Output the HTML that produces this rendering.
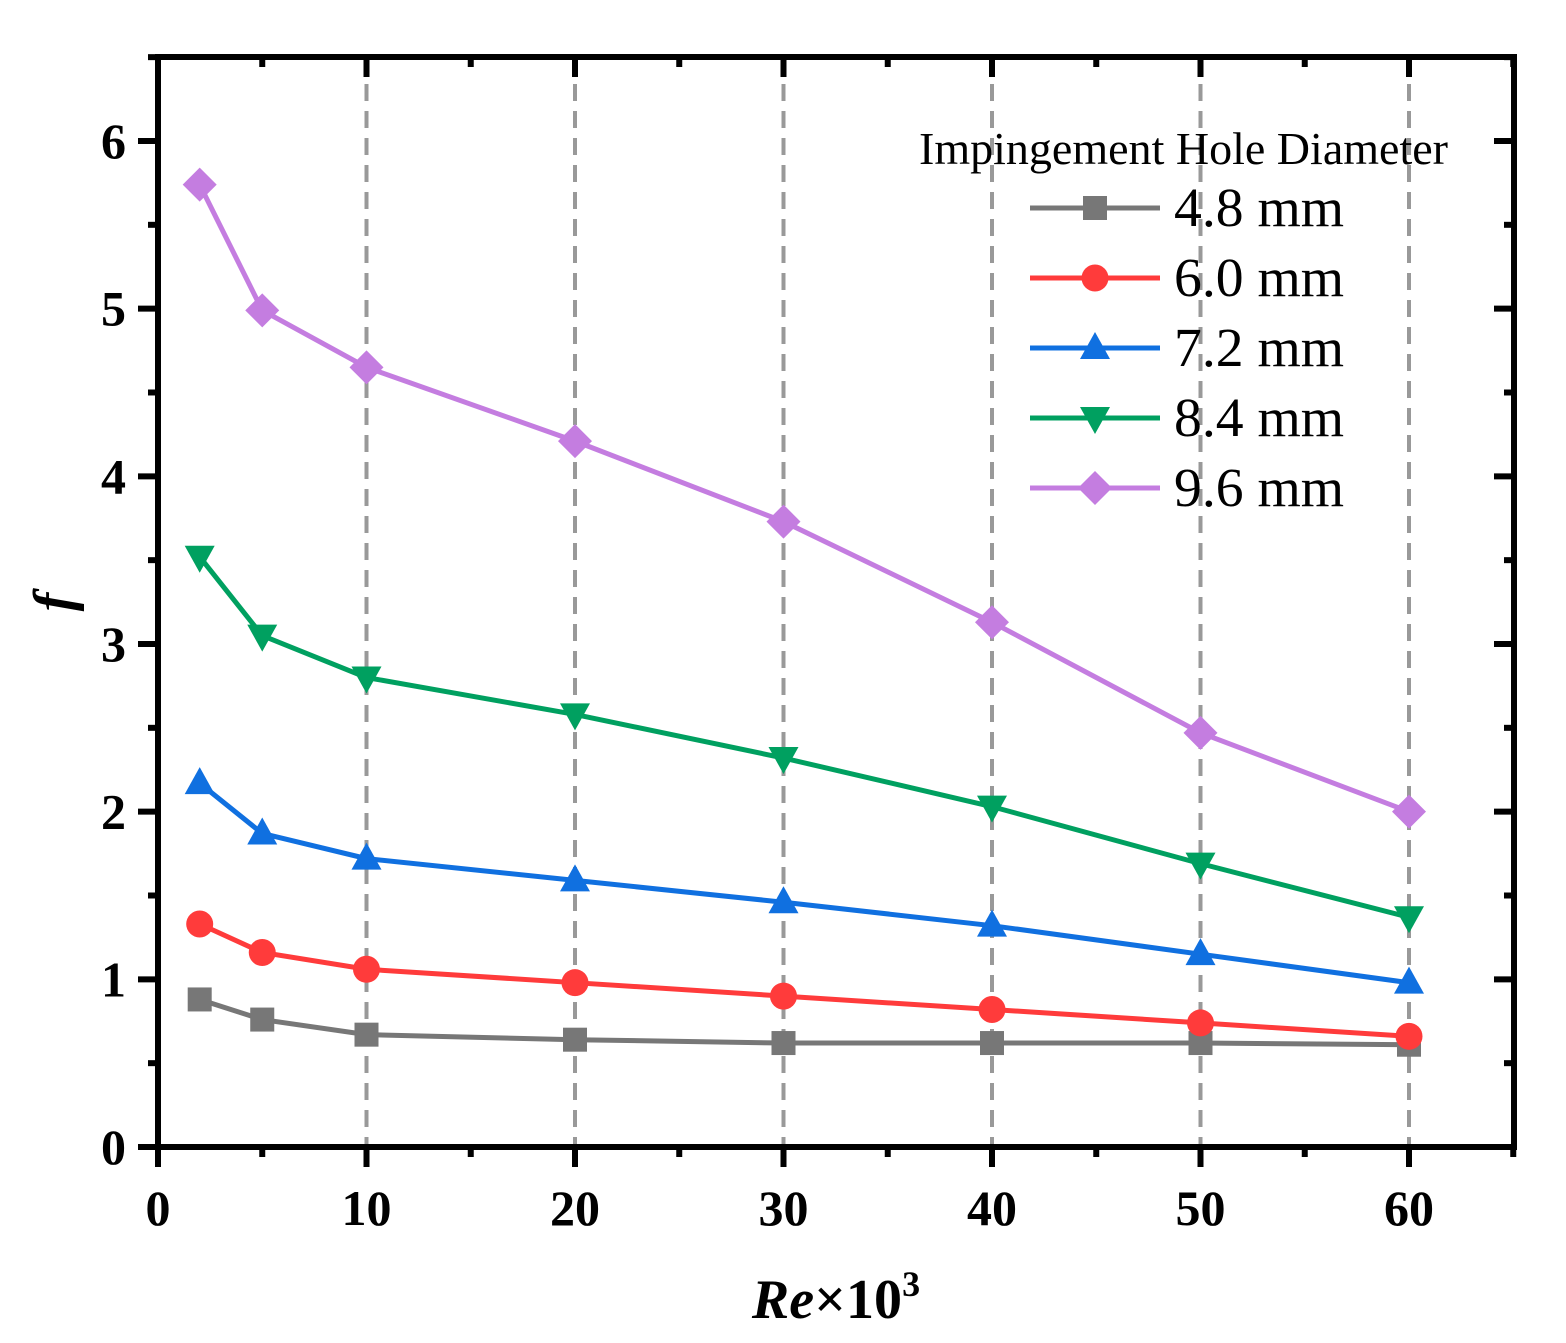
<!DOCTYPE html>
<html><head><meta charset="utf-8"><style>
html,body{margin:0;padding:0;background:#fff;width:1566px;height:1343px;overflow:hidden}
</style></head><body>
<svg id="s" width="1566" height="1343" xmlns="http://www.w3.org/2000/svg" font-family="Liberation Serif, serif"></svg>
<script>
const X=v=>158+v*20.85, Y=v=>1147-v*167.67;
let h='';
for(const v of [10,20,30,40,50,60]) h+=`<line x1="${X(v)}" y1="57" x2="${X(v)}" y2="1147" stroke="#999" stroke-width="4" stroke-dasharray="17,10"/>`;
const xs=[2,5,10,20,30,40,50,60];
const S=[
['#777','sq',[0.88,0.76,0.67,0.64,0.62,0.62,0.62,0.61]],
['#ff3b3b','ci',[1.33,1.16,1.06,0.98,0.90,0.82,0.74,0.66]],
['#1070e0','tu',[2.17,1.87,1.72,1.59,1.46,1.32,1.15,0.98]],
['#00a060','td',[3.52,3.05,2.80,2.58,2.32,2.03,1.69,1.37]],
['#c47de0','di',[5.74,4.99,4.65,4.21,3.73,3.13,2.47,2.00]]];
function mk(t,x,y,c){
 if(t=='sq')return `<rect x="${x-12}" y="${y-12}" width="24" height="24" fill="${c}"/>`;
 if(t=='ci')return `<circle cx="${x}" cy="${y}" r="13.5" fill="${c}"/>`;
 if(t=='tu')return `<polygon points="${x},${y-16} ${x+15},${y+11} ${x-15},${y+11}" fill="${c}"/>`;
 if(t=='td')return `<polygon points="${x},${y+16} ${x+15},${y-11} ${x-15},${y-11}" fill="${c}"/>`;
 return `<polygon points="${x},${y-17} ${x+17},${y} ${x},${y+17} ${x-17},${y}" fill="${c}"/>`;
}
for(const [c,t,d] of S){
 h+=`<polyline fill="none" stroke="${c}" stroke-width="5" points="${xs.map((x,i)=>X(x)+','+Y(d[i])).join(' ')}"/>`;
 xs.forEach((x,i)=>h+=mk(t,X(x),Y(d[i]),c));
}
h+=`<rect x="158" y="57" width="1356" height="1090" fill="none" stroke="#000" stroke-width="6"/>`;
for(let v=0;v<=65;v+=5){const x=X(v),L=v%10==0?20:10;
 h+=`<line x1="${x}" y1="1147" x2="${x}" y2="${1147+L}" stroke="#000" stroke-width="6"/>`;
 h+=`<line x1="${x}" y1="57" x2="${x}" y2="${57+L}" stroke="#000" stroke-width="6"/>`;
 if(v%10==0&&v<=60)h+=`<text x="${x}" y="1225" font-size="50" font-weight="bold" text-anchor="middle">${v}</text>`;}
for(let v=0;v<=6.5;v+=0.5){const y=Y(v),L=(v%1==0)?20:10;
 h+=`<line x1="${158-L}" y1="${y}" x2="158" y2="${y}" stroke="#000" stroke-width="6"/><line x1="${1514-L}" y1="${y}" x2="1514" y2="${y}" stroke="#000" stroke-width="6"/>`;
 if(v%1==0)h+=`<text x="126" y="${y+17}" font-size="50" font-weight="bold" text-anchor="end">${v}</text>`;}
h+=`<text x="836" y="1318" font-size="56" font-weight="bold" text-anchor="middle"><tspan font-style="italic">Re</tspan>×10<tspan font-size="36" dy="-22">3</tspan></text>`;
h+=`<text transform="translate(72,602) rotate(-90)" font-size="56" font-weight="bold" font-style="italic" text-anchor="middle">f</text>`;
h+=`<text x="919" y="164" font-size="46" textLength="529" lengthAdjust="spacingAndGlyphs">Impingement Hole Diameter</text>`;
const labs=['4.8 mm','6.0 mm','7.2 mm','8.4 mm','9.6 mm'];
S.forEach(([c,t],i)=>{const y=208+i*70;
 h+=`<line x1="1030" y1="${y}" x2="1160" y2="${y}" stroke="${c}" stroke-width="5"/>`+mk(t,1095,y,c)+
 `<text x="1174" y="${y+18}" font-size="55" textLength="170" lengthAdjust="spacingAndGlyphs">${labs[i]}</text>`;});
document.getElementById('s').innerHTML=h;
</script>
</body></html>
